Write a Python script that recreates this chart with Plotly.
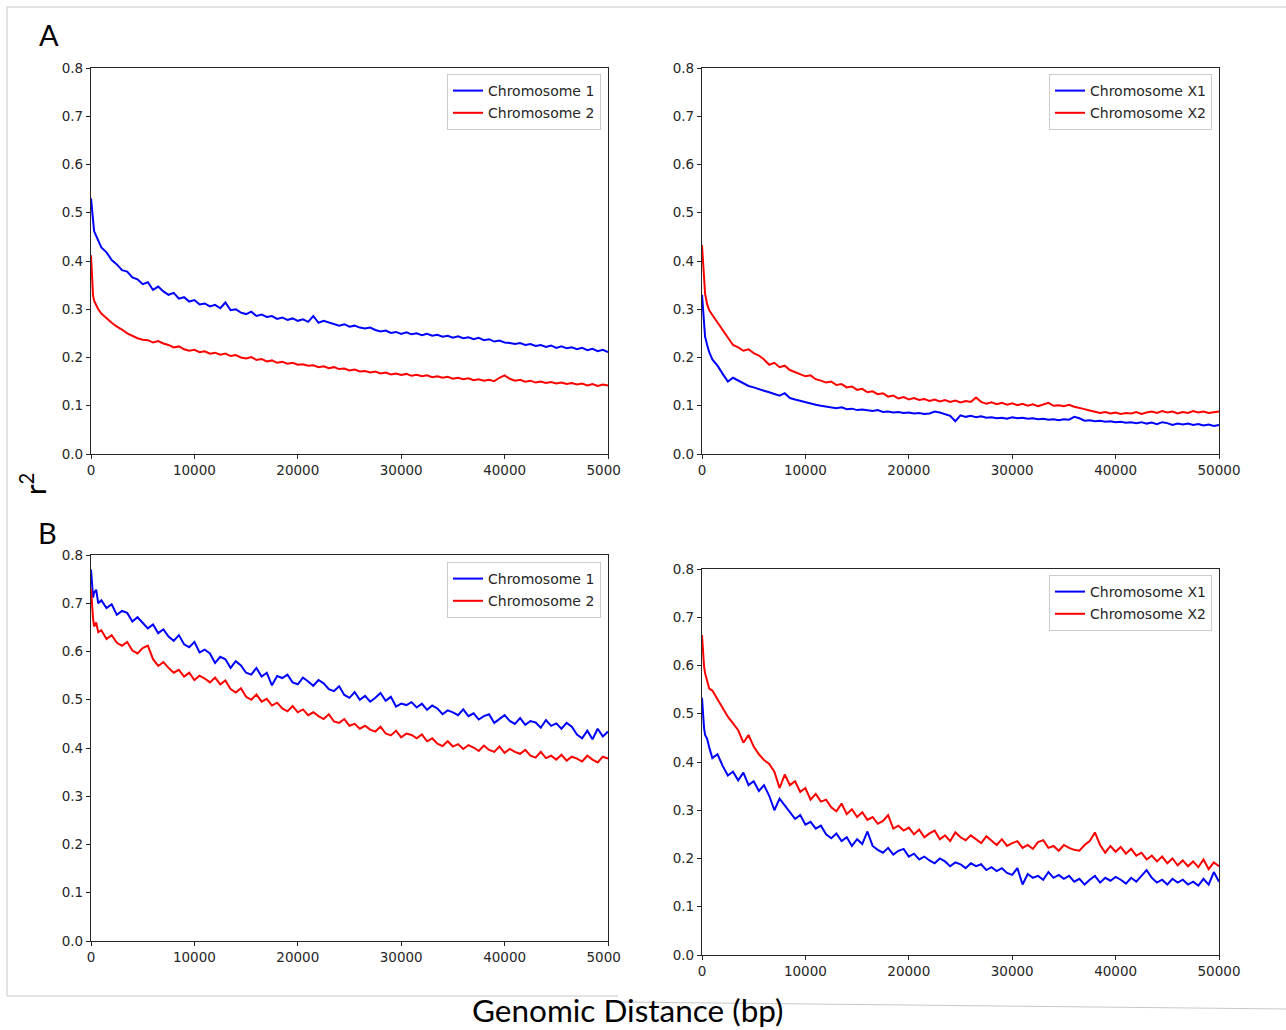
import plotly.graph_objects as go

# Genomic distance grid (bp)
distance = [0, 100, 200, 300, 500, 700, 1000, 1500, 2000, 2500, 3000, 3500, 4000, 4500, 5000,
            5500, 6000, 6500, 7000, 7500, 8000, 8500, 9000, 9500, 10000, 10500, 11000, 11500,
            12000, 12500, 13000, 13500, 14000, 14500, 15000, 15500, 16000, 16500, 17000, 17500,
            18000, 18500, 19000, 19500, 20000, 20500, 21000, 21500, 22000, 22500, 23000, 23500,
            24000, 24500, 25000, 25500, 26000, 26500, 27000, 27500, 28000, 28500, 29000, 29500,
            30000, 30500, 31000, 31500, 32000, 32500, 33000, 33500, 34000, 34500, 35000, 35500,
            36000, 36500, 37000, 37500, 38000, 38500, 39000, 39500, 40000, 40500, 41000, 41500,
            42000, 42500, 43000, 43500, 44000, 44500, 45000, 45500, 46000, 46500, 47000, 47500,
            48000, 48500, 49000, 49500, 50000]

# Panel A, autosomes
a_chr1 = [0.530, 0.505, 0.478, 0.462, 0.452, 0.441, 0.428,
          0.418, 0.402, 0.393, 0.381, 0.378, 0.366, 0.362, 0.352, 0.356, 0.340,
          0.347, 0.337, 0.330, 0.334, 0.322, 0.325, 0.316, 0.319, 0.310, 0.312,
          0.306, 0.309, 0.302, 0.314, 0.298, 0.300, 0.293, 0.290, 0.295, 0.286,
          0.289, 0.284, 0.286, 0.280, 0.283, 0.278, 0.281, 0.276, 0.279, 0.274,
          0.286, 0.272, 0.276, 0.273, 0.270, 0.266, 0.269, 0.264, 0.266, 0.262,
          0.260, 0.262, 0.257, 0.254, 0.256, 0.251, 0.253, 0.249, 0.252, 0.248,
          0.250, 0.246, 0.249, 0.245, 0.247, 0.243, 0.245, 0.241, 0.244, 0.240,
          0.242, 0.238, 0.241, 0.236, 0.238, 0.233, 0.235, 0.231, 0.230, 0.228,
          0.230, 0.226, 0.228, 0.224, 0.226, 0.222, 0.225, 0.220, 0.223, 0.219,
          0.221, 0.217, 0.220, 0.215, 0.218, 0.213, 0.216, 0.211]
a_chr2 = [0.412, 0.352, 0.328, 0.318, 0.309, 0.300, 0.291,
          0.281, 0.272, 0.264, 0.258, 0.250, 0.245, 0.240, 0.237, 0.236, 0.231,
          0.234, 0.229, 0.226, 0.221, 0.223, 0.217, 0.214, 0.216, 0.211, 0.213,
          0.208, 0.210, 0.206, 0.208, 0.203, 0.205, 0.200, 0.198, 0.201, 0.195,
          0.197, 0.192, 0.194, 0.189, 0.191, 0.187, 0.189, 0.185, 0.186, 0.183,
          0.184, 0.180, 0.182, 0.178, 0.180, 0.176, 0.177, 0.173, 0.175, 0.171,
          0.172, 0.169, 0.171, 0.167, 0.169, 0.165, 0.167, 0.164, 0.166, 0.162,
          0.164, 0.161, 0.163, 0.159, 0.161, 0.158, 0.160, 0.156, 0.158, 0.155,
          0.157, 0.153, 0.155, 0.152, 0.154, 0.151, 0.158, 0.163, 0.156, 0.152,
          0.154, 0.150, 0.152, 0.148, 0.150, 0.147, 0.149, 0.146, 0.148, 0.145,
          0.147, 0.144, 0.146, 0.142, 0.145, 0.141, 0.144, 0.142]

# Panel A, X chromosomes
a_x1 = [0.330, 0.292, 0.262, 0.243, 0.226, 0.211, 0.196,
        0.183, 0.166, 0.150, 0.158, 0.152, 0.146, 0.141, 0.138, 0.134, 0.131,
        0.128, 0.125, 0.121, 0.126, 0.116, 0.113, 0.110, 0.108, 0.104, 0.102,
        0.100, 0.098, 0.097, 0.095, 0.097, 0.093, 0.094, 0.091, 0.092, 0.090,
        0.089, 0.091, 0.087, 0.088, 0.086, 0.087, 0.085, 0.086, 0.084, 0.085,
        0.083, 0.084, 0.088, 0.086, 0.082, 0.079, 0.068, 0.080, 0.077, 0.079,
        0.076, 0.078, 0.075, 0.076, 0.074, 0.075, 0.073, 0.076, 0.074, 0.075,
        0.073, 0.074, 0.072, 0.073, 0.071, 0.072, 0.070, 0.072, 0.071, 0.077,
        0.074, 0.069, 0.070, 0.068, 0.069, 0.067, 0.068, 0.066, 0.067, 0.065,
        0.066, 0.064, 0.066, 0.063, 0.065, 0.062, 0.066, 0.064, 0.060, 0.063,
        0.061, 0.063, 0.060, 0.062, 0.059, 0.061, 0.058, 0.060]
a_x2 = [0.433, 0.392, 0.356, 0.332, 0.310, 0.298, 0.288,
        0.272, 0.256, 0.240, 0.226, 0.221, 0.214, 0.217, 0.209, 0.204, 0.196,
        0.185, 0.189, 0.180, 0.183, 0.174, 0.170, 0.166, 0.161, 0.163, 0.155,
        0.152, 0.148, 0.150, 0.143, 0.145, 0.138, 0.140, 0.133, 0.135, 0.128,
        0.130, 0.124, 0.126, 0.119, 0.121, 0.115, 0.118, 0.113, 0.116, 0.112,
        0.114, 0.110, 0.113, 0.109, 0.112, 0.108, 0.111, 0.107, 0.110, 0.108,
        0.117, 0.108, 0.104, 0.107, 0.103, 0.106, 0.102, 0.105, 0.101, 0.104,
        0.100, 0.103, 0.099, 0.102, 0.106, 0.100, 0.101, 0.099, 0.102, 0.098,
        0.096, 0.093, 0.090, 0.088, 0.085, 0.087, 0.084, 0.086, 0.083, 0.085,
        0.084, 0.087, 0.083, 0.086, 0.088, 0.085, 0.089, 0.086, 0.088, 0.084,
        0.087, 0.085, 0.089, 0.086, 0.088, 0.085, 0.087, 0.088]

# Panel B, autosomes
b_chr1 = [0.770, 0.738, 0.712, 0.722, 0.728, 0.700, 0.706,
          0.690, 0.698, 0.676, 0.684, 0.680, 0.662, 0.671, 0.660, 0.648, 0.656,
          0.638, 0.646, 0.631, 0.622, 0.634, 0.615, 0.609, 0.620, 0.598, 0.604,
          0.596, 0.576, 0.589, 0.584, 0.566, 0.580, 0.571, 0.556, 0.552, 0.566,
          0.548, 0.556, 0.530, 0.549, 0.545, 0.552, 0.536, 0.532, 0.546, 0.538,
          0.529, 0.541, 0.534, 0.522, 0.518, 0.528, 0.510, 0.504, 0.516, 0.500,
          0.508, 0.496, 0.504, 0.514, 0.498, 0.506, 0.486, 0.492, 0.489, 0.495,
          0.484, 0.492, 0.479, 0.488, 0.482, 0.470, 0.478, 0.474, 0.468, 0.480,
          0.466, 0.472, 0.459, 0.466, 0.470, 0.452, 0.460, 0.468, 0.456, 0.450,
          0.462, 0.448, 0.456, 0.453, 0.442, 0.458, 0.446, 0.451, 0.440, 0.452,
          0.444, 0.428, 0.420, 0.436, 0.418, 0.440, 0.424, 0.434]
b_chr2 = [0.730, 0.694, 0.668, 0.652, 0.660, 0.640, 0.644,
          0.626, 0.634, 0.618, 0.612, 0.620, 0.602, 0.596, 0.607, 0.612, 0.584,
          0.570, 0.578, 0.566, 0.556, 0.562, 0.548, 0.556, 0.541, 0.550, 0.544,
          0.536, 0.546, 0.532, 0.540, 0.522, 0.515, 0.524, 0.506, 0.500, 0.511,
          0.496, 0.502, 0.488, 0.494, 0.482, 0.476, 0.487, 0.474, 0.480, 0.468,
          0.474, 0.466, 0.460, 0.470, 0.455, 0.452, 0.460, 0.446, 0.450, 0.440,
          0.446, 0.438, 0.434, 0.444, 0.430, 0.426, 0.436, 0.422, 0.430, 0.427,
          0.420, 0.428, 0.414, 0.420, 0.409, 0.404, 0.414, 0.403, 0.408, 0.398,
          0.406, 0.401, 0.394, 0.405, 0.396, 0.392, 0.403, 0.390, 0.398, 0.392,
          0.388, 0.396, 0.384, 0.380, 0.392, 0.379, 0.384, 0.376, 0.386, 0.374,
          0.382, 0.378, 0.372, 0.384, 0.376, 0.370, 0.382, 0.378]

# Panel B, X chromosomes
b_x1 = [0.533, 0.488, 0.470, 0.456, 0.448, 0.430, 0.408,
        0.416, 0.392, 0.372, 0.380, 0.362, 0.378, 0.352, 0.360, 0.340, 0.352,
        0.330, 0.300, 0.324, 0.310, 0.296, 0.282, 0.290, 0.270, 0.276, 0.262,
        0.268, 0.250, 0.242, 0.252, 0.236, 0.244, 0.226, 0.240, 0.230, 0.256,
        0.226, 0.218, 0.212, 0.222, 0.208, 0.216, 0.220, 0.204, 0.210, 0.198,
        0.204, 0.196, 0.190, 0.200, 0.194, 0.184, 0.192, 0.188, 0.180, 0.190,
        0.184, 0.188, 0.176, 0.182, 0.174, 0.180, 0.170, 0.166, 0.180, 0.146,
        0.168, 0.160, 0.164, 0.156, 0.172, 0.160, 0.166, 0.158, 0.164, 0.152,
        0.158, 0.146, 0.156, 0.164, 0.150, 0.160, 0.154, 0.162, 0.156, 0.148,
        0.160, 0.152, 0.164, 0.176, 0.160, 0.150, 0.156, 0.146, 0.158, 0.150,
        0.156, 0.146, 0.152, 0.144, 0.158, 0.146, 0.172, 0.152]
b_x2 = [0.663, 0.628, 0.598, 0.584, 0.566, 0.552, 0.548,
        0.530, 0.512, 0.494, 0.480, 0.466, 0.440, 0.456, 0.432, 0.416, 0.404,
        0.396, 0.380, 0.346, 0.374, 0.352, 0.360, 0.338, 0.346, 0.322, 0.334,
        0.318, 0.322, 0.306, 0.298, 0.314, 0.292, 0.302, 0.286, 0.296, 0.280,
        0.286, 0.272, 0.278, 0.290, 0.262, 0.268, 0.258, 0.264, 0.250, 0.260,
        0.244, 0.252, 0.258, 0.240, 0.248, 0.236, 0.254, 0.244, 0.238, 0.248,
        0.240, 0.232, 0.246, 0.236, 0.228, 0.240, 0.226, 0.232, 0.236, 0.222,
        0.228, 0.220, 0.234, 0.238, 0.222, 0.226, 0.216, 0.228, 0.222, 0.218,
        0.216, 0.228, 0.236, 0.254, 0.228, 0.212, 0.226, 0.214, 0.224, 0.210,
        0.220, 0.206, 0.212, 0.198, 0.206, 0.194, 0.204, 0.190, 0.200, 0.186,
        0.196, 0.184, 0.194, 0.182, 0.198, 0.178, 0.192, 0.184]

x_ticks = [0, 10000, 20000, 30000, 40000, 50000]
x_labels_full = ["0", "10000", "20000", "30000", "40000", "50000"]
x_labels_cut = ["0", "10000", "20000", "30000", "40000", "5000\u00a0\u00a0"]
y_ticks = [0.0, 0.1, 0.2, 0.3, 0.4, 0.5, 0.6, 0.7, 0.8]

W, H = 1286, 1030
BLUE, RED = "#0000ff", "#ff0000"
INK = "#262626"


def px_x(p):
    return p / W


def px_y(p):
    return 1 - p / H


# (x-domain px, y-domain px, legend, series, labels, cut last tick)
panels = [
    ((91, 608), (68, 454), "legend", (a_chr1, a_chr2), ("Chromosome 1", "Chromosome 2"), True),
    ((702, 1219), (68, 454), "legend2", (a_x1, a_x2), ("Chromosome X1", "Chromosome X2"), False),
    ((91, 608), (555, 941), "legend3", (b_chr1, b_chr2), ("Chromosome 1", "Chromosome 2"), True),
    ((702, 1219), (569, 955), "legend4", (b_x1, b_x2), ("Chromosome X1", "Chromosome X2"), False),
]
legend_pos = [(601, 74), (1212, 74), (601, 562), (1212, 575)]

fig = go.Figure()
layout = dict(
    width=W, height=H, autosize=False,
    margin=dict(l=0, r=0, t=0, b=0, pad=0, autoexpand=False),
    paper_bgcolor="white", plot_bgcolor="white",
    font=dict(family="DejaVu Sans", size=13, color=INK),
)

axis_common = dict(
    showgrid=False, zeroline=False, showline=True, mirror=True, automargin=False,
    linecolor=INK, linewidth=1.2, ticks="outside", ticklen=4,
    tickwidth=1.2, tickcolor=INK,
    tickfont=dict(family="DejaVu Sans", size=13.5, color=INK),
)

for i, (xd, yd, leg, series, names, cut) in enumerate(panels):
    n = "" if i == 0 else str(i + 1)
    for k, (vals, name, color) in enumerate(zip(series, names, (BLUE, RED))):
        fig.add_trace(go.Scatter(
            x=distance, y=vals, mode="lines", name=name,
            line=dict(color=color, width=2),
            xaxis="x" + n, yaxis="y" + n, legend=leg,
            legendgroup=f"p{i}s{k}",
        ))
    layout["xaxis" + n] = dict(
        axis_common, domain=[px_x(xd[0]), px_x(xd[1])], range=[0, 50000],
        anchor="y" + n, tickmode="array", tickvals=x_ticks,
        ticktext=x_labels_cut if cut else x_labels_full,
    )
    layout["yaxis" + n] = dict(
        axis_common, domain=[px_y(yd[1]), px_y(yd[0])], range=[0, 0.8],
        anchor="x" + n, tickmode="array", tickvals=y_ticks, tickformat=".1f",
    )
    lx, ly = legend_pos[i]
    layout[leg] = dict(
        x=px_x(lx), y=px_y(ly), xanchor="right", yanchor="top",
        bgcolor="rgba(255,255,255,0.9)", bordercolor="#cccccc", borderwidth=1,
        font=dict(family="DejaVu Sans", size=14, color=INK),
        tracegroupgap=1, itemwidth=30,
    )

label_font = dict(family="Lato", size=29, color="black")
layout["annotations"] = [
    dict(text="A", x=px_x(49), y=px_y(35), xref="paper", yref="paper",
         showarrow=False, font=label_font, xanchor="center", yanchor="middle"),
    dict(text="B", x=px_x(47), y=px_y(532), xref="paper", yref="paper",
         showarrow=False, font=label_font, xanchor="center", yanchor="middle"),
    dict(text="r<sup>2</sup>", x=px_x(33), y=px_y(484), xref="paper", yref="paper",
         showarrow=False, font=label_font, textangle=-90,
         xanchor="center", yanchor="middle"),
    dict(text="Genomic Distance (bp)", x=px_x(628), y=px_y(1010), xref="paper",
         yref="paper", showarrow=False, font=dict(label_font, size=31.5),
         xanchor="center", yanchor="middle"),
]

# thin frame edges around the composite
frame = dict(color="#c8c8c8", width=1)
layout["shapes"] = [
    dict(type="line", xref="paper", yref="paper", x0=px_x(7), x1=1, y0=px_y(7), y1=px_y(7), line=frame),
    dict(type="line", xref="paper", yref="paper", x0=px_x(7), x1=px_x(7), y0=px_y(7), y1=px_y(996), line=frame),
    dict(type="line", xref="paper", yref="paper", x0=px_x(7), x1=px_x(618), y0=px_y(996), y1=px_y(996), line=frame),
    dict(type="line", xref="paper", yref="paper", x0=px_x(618), x1=1, y0=px_y(1002), y1=px_y(1009), line=frame),
]

fig.update_layout(**layout)
fig.write_html(
    "out.html",
    post_script="document.body.style.margin='0';document.body.style.overflow='hidden';",
)
